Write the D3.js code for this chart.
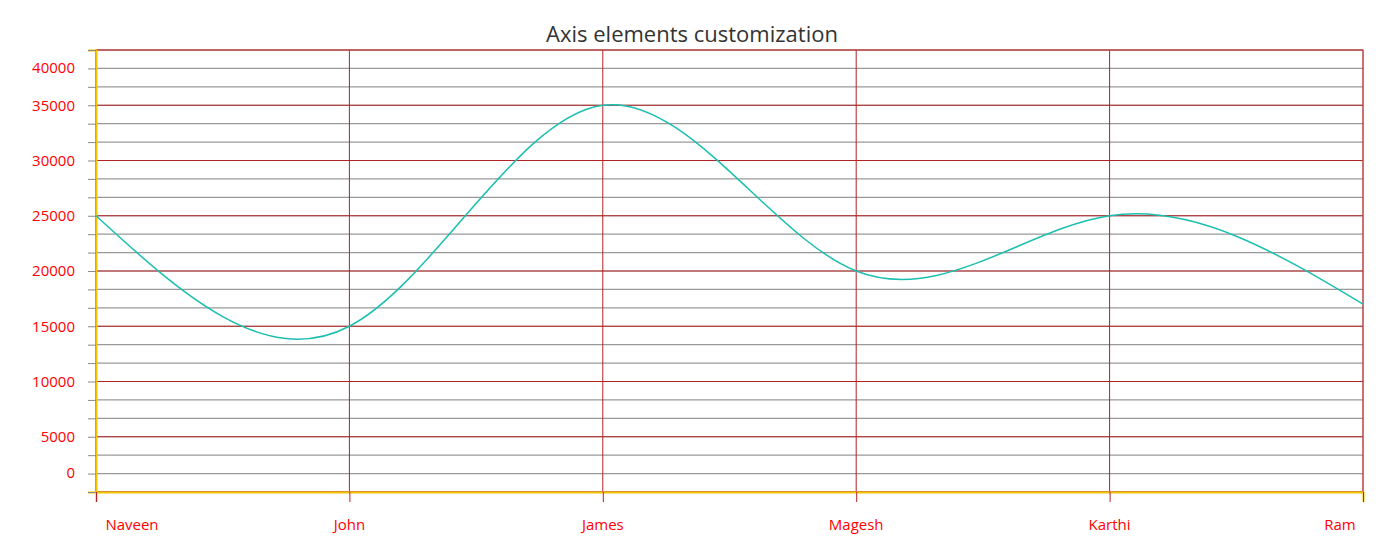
<!DOCTYPE html>
<html><head><meta charset="utf-8">
<script src="https://cdn.jsdelivr.net/npm/d3@7"></script>
<style>body{margin:0;background:#fff;font-family:"Open Sans","Noto Sans",sans-serif}</style>
</head><body>
<script>
// chart data
const names = ["Naveen", "John", "James", "Magesh", "Karthi", "Ram"];
const sales = [25000, 15000, 35000, 20000, 25000, 17000];
const yTicks = [0, 5000, 10000, 15000, 20000, 25000, 30000, 35000, 40000];

const width = 1391, height = 559;
const plotLeft = 96, plotRight = 1363, plotTop = 50, plotBottom = 492;

const x = d3.scalePoint(names, [plotLeft, plotRight]);
const y = d3.scaleLinear([0, 40000], [plotBottom, plotTop]);

const svg = d3.select("body").append("svg").attr("width", width).attr("height", height);

svg.append("text").text("Axis elements customization")
  .attr("x", 692).attr("y", 42).attr("text-anchor", "middle")
  .attr("font-size", 22).attr("fill", "#333");

// minor grid lines
const minor = d3.range(0, 40001, 5000 / 3);
svg.append("g").selectAll("line").data(minor).join("line")
  .attr("x1", plotLeft).attr("x2", plotRight)
  .attr("y1", d => y(d)).attr("y2", d => y(d))
  .attr("stroke", "#999").attr("stroke-width", 1.2);

// major grid lines
svg.append("g").selectAll("line").data(yTicks).join("line")
  .attr("x1", plotLeft).attr("x2", plotRight)
  .attr("y1", d => y(d)).attr("y2", d => y(d))
  .attr("stroke", "#b22222").attr("stroke-width", 1);

svg.append("g").selectAll("line").data(names).join("line")
  .attr("x1", d => x(d)).attr("x2", d => x(d))
  .attr("y1", plotTop).attr("y2", plotBottom)
  .attr("stroke", "#b22222");

svg.append("rect").attr("x", plotLeft).attr("y", plotTop)
  .attr("width", plotRight - plotLeft).attr("height", plotBottom - plotTop)
  .attr("fill", "none").attr("stroke", "#c05050");

// y axis
const yAxis = svg.append("g").attr("transform", `translate(${plotLeft},0)`)
  .call(d3.axisLeft(y).tickValues(minor).tickSize(8).tickFormat(""));
yAxis.select(".domain").attr("stroke", "#f5c400").attr("stroke-width", 2);
yAxis.selectAll(".tick line").attr("stroke", "#888");
svg.append("g").selectAll("text").data(yTicks).join("text")
  .text(d => d)
  .attr("x", 75).attr("text-anchor", "end")
  .attr("y", d => d === 40000 ? y(d) + 18 : d === 0 ? y(d) - 19 : y(d))
  .attr("dy", "0.35em").attr("font-size", 15).attr("fill", "red");

// x axis
const xAxis = svg.append("g").attr("transform", `translate(0,${plotBottom})`)
  .call(d3.axisBottom(x).tickSize(10).tickFormat(""));
xAxis.select(".domain").attr("stroke", "#f5c400").attr("stroke-width", 2);
xAxis.selectAll(".tick line").attr("stroke", "#b22222");
svg.append("g").selectAll("text").data(names).join("text")
  .text(d => d)
  .attr("x", (d, i) => i === 0 ? x(d) + 36 : i === names.length - 1 ? x(d) - 23 : x(d))
  .attr("y", 530).attr("text-anchor", "middle")
  .attr("font-size", 15).attr("fill", "red");

// series
svg.append("path")
  .attr("d", d3.line().x((d, i) => x(names[i])).y(d => y(d)).curve(d3.curveNatural)(sales))
  .attr("fill", "none").attr("stroke", "#1bbfb0").attr("stroke-width", 1.5);
</script>
</body></html>
